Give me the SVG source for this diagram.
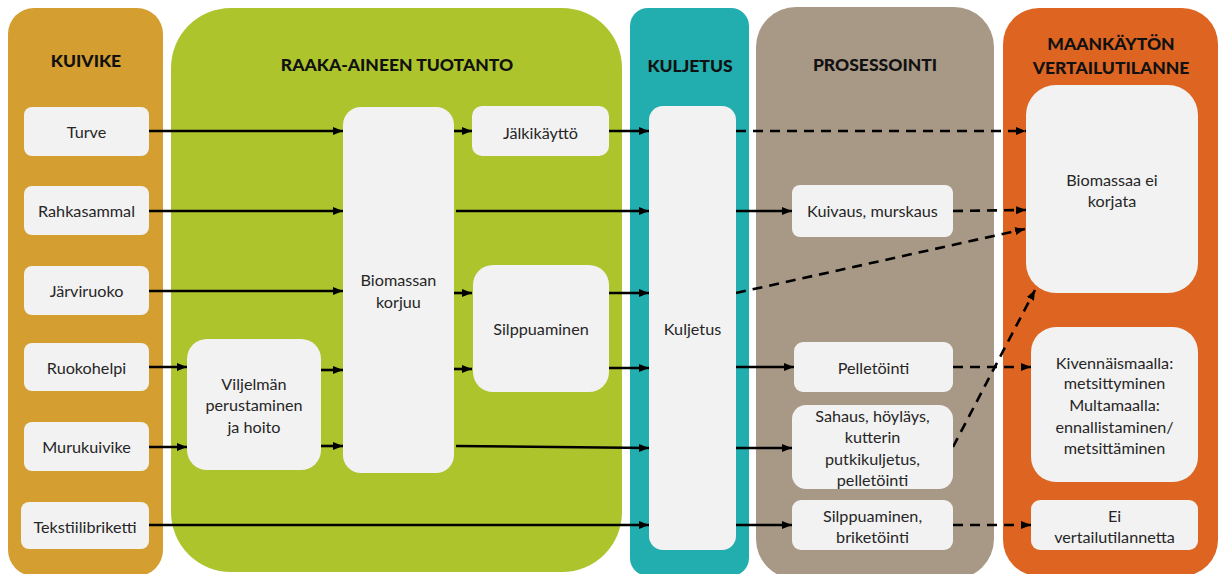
<svg xmlns="http://www.w3.org/2000/svg" width="1219" height="574" viewBox="0 0 1219 574">
<style>
.panel{stroke:none}
.box{fill:#F2F2F2;stroke:none}
.t{font-family:Lato,"Liberation Sans",sans-serif;font-size:16.2px;fill:#262626;text-anchor:middle}
.h{font-family:Lato,"Liberation Sans",sans-serif;font-size:17.5px;font-weight:900;fill:#111;text-anchor:middle}
.a{stroke:#000;stroke-width:2.6;fill:none;marker-end:url(#ah)}
.d{stroke:#000;stroke-width:2.6;fill:none;stroke-dasharray:10 7;marker-end:url(#ah)}
</style>
<defs>
<marker id="ah" markerUnits="userSpaceOnUse" markerWidth="10" markerHeight="10" viewBox="0 0 10 10" refX="10" refY="5" orient="auto">
<path d="M0,1 L10,5 L0,9 Z" fill="#000"/>
</marker>
</defs>
<rect width="1219" height="574" fill="#fff"/>
<g id="panels">
<rect id="p-kuivike" class="panel" x="8" y="8" width="155" height="568" rx="26" fill="#D49E30"/>
<rect id="p-raaka" class="panel" x="171" y="8" width="451" height="564" rx="60" fill="#ADC42D"/>
<rect id="p-kuljetus" class="panel" x="630" y="8" width="119" height="568" rx="18" fill="#22ADAE"/>
<rect id="p-prosessointi" class="panel" x="756" y="7" width="238" height="572" rx="40" fill="#A89886"/>
<rect id="p-maankaytto" class="panel" x="1003" y="8" width="215" height="568" rx="36" fill="#DD6521"/>
<text class="h" x="86" y="67">KUIVIKE</text>
<text class="h" x="397" y="71">RAAKA-AINEEN TUOTANTO</text>
<text class="h" x="690" y="72">KULJETUS</text>
<text class="h" x="875" y="71">PROSESSOINTI</text>
<text class="h" x="1111" y="50">MAANKÄYTÖN</text>
<text class="h" x="1111" y="74">VERTAILUTILANNE</text>
</g>
<g id="connectors">
<line class="a" x1="149" y1="131" x2="343" y2="131"/>
<line class="a" x1="149" y1="211" x2="343" y2="211"/>
<line class="a" x1="149" y1="291" x2="343" y2="291"/>
<line class="a" x1="149" y1="367" x2="187" y2="367"/>
<line class="a" x1="149" y1="447" x2="187" y2="447"/>
<line class="a" x1="321" y1="370" x2="343" y2="370"/>
<line class="a" x1="321" y1="446" x2="343" y2="446"/>
<line class="a" x1="454" y1="131" x2="472" y2="131"/>
<line class="a" x1="454" y1="293" x2="472" y2="293"/>
<line class="a" x1="454" y1="369" x2="472" y2="369"/>
<line class="a" x1="609" y1="131" x2="649" y2="131"/>
<line class="a" x1="456" y1="211" x2="649" y2="211"/>
<line class="a" x1="609" y1="293" x2="649" y2="293"/>
<line class="a" x1="609" y1="368" x2="649" y2="368"/>
<line class="a" x1="456" y1="446" x2="649" y2="448"/>
<line class="a" x1="149" y1="525" x2="649" y2="525"/>
<line class="a" x1="736" y1="211" x2="792" y2="211"/>
<line class="a" x1="736" y1="367" x2="794" y2="367"/>
<line class="a" x1="736" y1="448" x2="792" y2="448"/>
<line class="a" x1="736" y1="525" x2="792" y2="525"/>
<line class="d" x1="736" y1="131" x2="1026" y2="131"/>
<line class="d" x1="953" y1="211" x2="1026" y2="210"/>
<line class="d" x1="736" y1="293" x2="1025" y2="229"/>
<line class="d" x1="953" y1="367" x2="1031" y2="367"/>
<line class="d" x1="953" y1="447" x2="1035" y2="290"/>
<line class="d" x1="953" y1="525" x2="1031" y2="525"/>
</g>
<g id="n-turve"><rect class="box" x="24" y="107" width="125" height="49" rx="8"/><text class="t" x="86.5" y="137.5">Turve</text></g>
<g id="n-rahkasammal"><rect class="box" x="24" y="186" width="125" height="49" rx="8"/><text class="t" x="86.5" y="216.5">Rahkasammal</text></g>
<g id="n-jarviruoko"><rect class="box" x="24" y="266" width="125" height="49" rx="8"/><text class="t" x="86.5" y="296.5">Järviruoko</text></g>
<g id="n-ruokohelpi"><rect class="box" x="24" y="343" width="125" height="48" rx="8"/><text class="t" x="86.5" y="373.5">Ruokohelpi</text></g>
<g id="n-murukuivike"><rect class="box" x="24" y="422" width="125" height="49" rx="8"/><text class="t" x="86.5" y="452.5">Murukuivike</text></g>
<g id="n-tekstiilibriketti"><rect class="box" x="21" y="502" width="128" height="47" rx="8"/><text class="t" x="85" y="532.5">Tekstiilibriketti</text></g>
<g id="n-viljelma"><rect class="box" x="187" y="339" width="134" height="131" rx="20"/><text class="t" x="254" y="389.5">Viljelmän</text><text class="t" x="254" y="410.5">perustaminen</text><text class="t" x="254" y="432.5">ja hoito</text></g>
<g id="n-biomassan"><rect class="box" x="343" y="107" width="111" height="366" rx="18"/><text class="t" x="398.5" y="285.5">Biomassan</text><text class="t" x="398.5" y="307.5">korjuu</text></g>
<g id="n-jalkikaytto"><rect class="box" x="472" y="106" width="137" height="50" rx="10"/><text class="t" x="540.5" y="138.5">Jälkikäyttö</text></g>
<g id="n-silppuaminen"><rect class="box" x="473" y="265" width="136" height="127" rx="20"/><text class="t" x="541" y="334.5">Silppuaminen</text></g>
<g id="n-kuljetus"><rect class="box" x="649" y="106" width="87" height="444" rx="14"/><text class="t" x="692.5" y="334.5">Kuljetus</text></g>
<g id="n-kuivaus"><rect class="box" x="792" y="185" width="161" height="52" rx="8"/><text class="t" x="872.5" y="216.5">Kuivaus, murskaus</text></g>
<g id="n-pelletointi"><rect class="box" x="794" y="342" width="159" height="50" rx="9"/><text class="t" x="873.5" y="373.5">Pelletöinti</text></g>
<g id="n-sahaus"><rect class="box" x="792" y="405" width="161" height="84" rx="14"/><text class="t" x="872.5" y="421.5">Sahaus, höyläys,</text><text class="t" x="872.5" y="442.5">kutterin</text><text class="t" x="872.5" y="464.5">putkikuljetus,</text><text class="t" x="872.5" y="485.5">pelletöinti</text></g>
<g id="n-briketointi"><rect class="box" x="792" y="500" width="161" height="50" rx="9"/><text class="t" x="872.5" y="521.5">Silppuaminen,</text><text class="t" x="872.5" y="542.5">briketöinti</text></g>
<g id="n-biomassaa"><rect class="box" x="1026" y="85" width="172" height="208" rx="30"/><text class="t" x="1112" y="185.5">Biomassaa ei</text><text class="t" x="1112" y="206.5">korjata</text></g>
<g id="n-kivennais"><rect class="box" x="1031" y="327" width="167" height="155" rx="25"/><text class="t" x="1114.5" y="368.5">Kivennäismaalla:</text><text class="t" x="1114.5" y="388.5">metsittyminen</text><text class="t" x="1114.5" y="410.5">Multamaalla:</text><text class="t" x="1114.5" y="432.5">ennallistaminen/</text><text class="t" x="1114.5" y="453.5">metsittäminen</text></g>
<g id="n-eivertailu"><rect class="box" x="1031" y="500" width="167" height="50" rx="9"/><text class="t" x="1114.5" y="521.5">Ei</text><text class="t" x="1114.5" y="542.5">vertailutilannetta</text></g>
</svg>
